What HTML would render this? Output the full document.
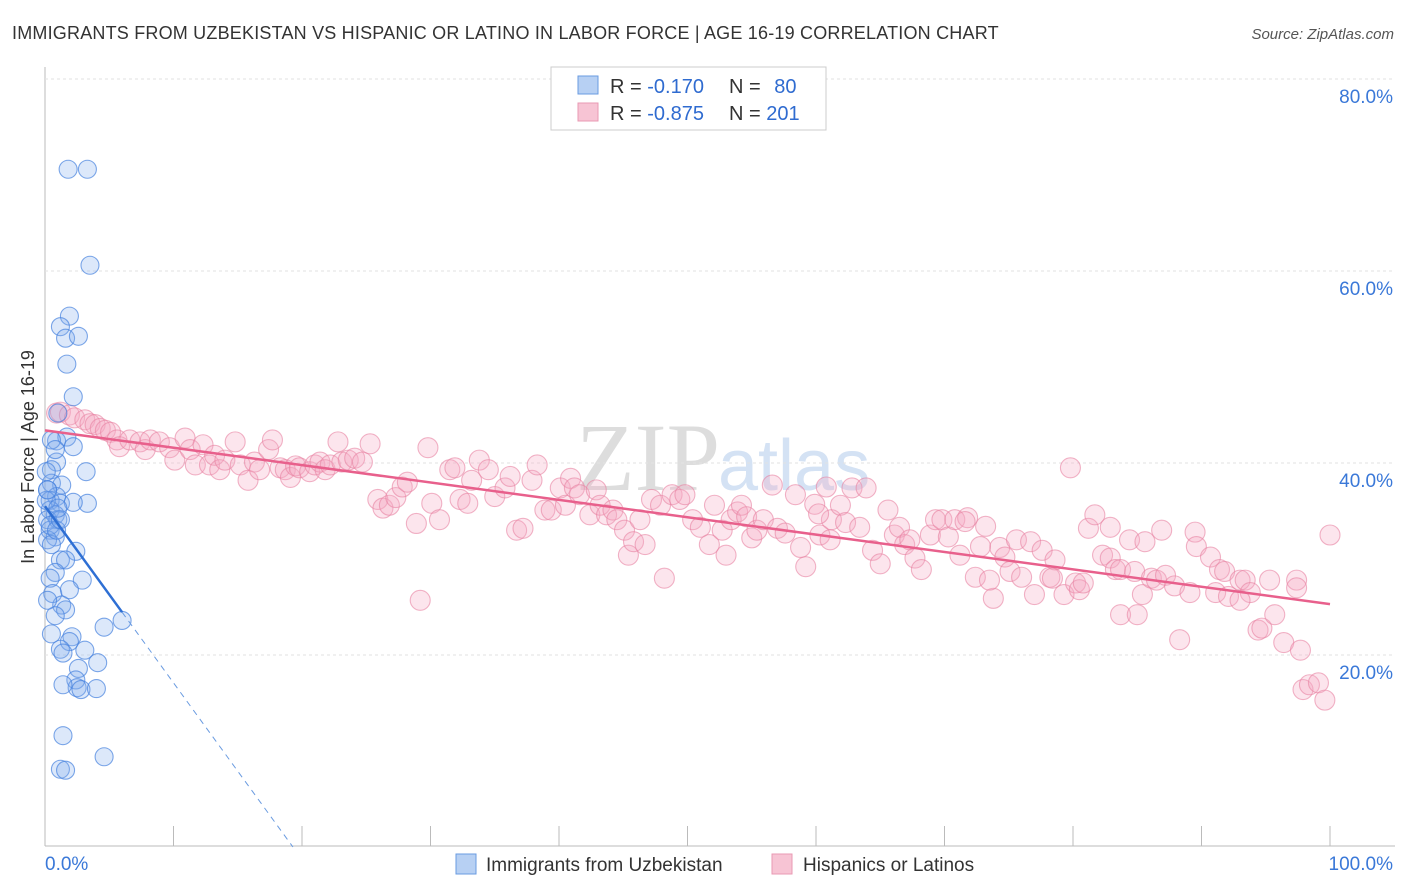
<!DOCTYPE html>
<html><head><meta charset="utf-8">
<style>
body{margin:0;background:#fff;font-family:"Liberation Sans",sans-serif;}
#wrap{position:relative;width:1406px;height:892px;overflow:hidden;}
</style></head>
<body><div id="wrap">
<svg id="svg" width="1406" height="892" xmlns="http://www.w3.org/2000/svg">
<text x="12" y="39" font-size="18" fill="#333" letter-spacing="0.2">IMMIGRANTS FROM UZBEKISTAN VS HISPANIC OR LATINO IN LABOR FORCE | AGE 16-19 CORRELATION CHART</text>
<text x="1394" y="39" font-size="15" fill="#555" font-style="italic" text-anchor="end">Source: ZipAtlas.com</text>
<text x="720" y="490" font-size="96" fill="#ddd" text-anchor="end" font-family="Liberation Serif,serif">ZIP</text>
<text x="718" y="490" font-size="72" fill="#d4e2f4">atlas</text>
<g id="grid"></g><g id="pts"></g><g id="lines"></g>
<text transform="translate(34,457) rotate(-90)" font-size="18" fill="#333" text-anchor="middle">In Labor Force | Age 16-19</text>
<g>
<rect x="551" y="67" width="275" height="63" fill="#fff" stroke="#ccc"/>
<rect x="578" y="76" width="20" height="18" fill="#b7d0f3" stroke="#6a9be0"/>
<rect x="578" y="103" width="20" height="18" fill="#f7c4d4" stroke="#e99ab3"/>
<text x="610" y="93" font-size="20" fill="#333">R = <tspan fill="#2f6bd0">-0.170</tspan></text>
<text x="729" y="93" font-size="20" fill="#333">N = <tspan fill="#2f6bd0" dx="8">80</tspan></text>
<text x="610" y="120" font-size="20" fill="#333">R = <tspan fill="#2f6bd0">-0.875</tspan></text>
<text x="729" y="120" font-size="20" fill="#333">N = <tspan fill="#2f6bd0">201</tspan></text>
</g>
<g><rect x="456" y="854" width="20" height="20" fill="#b7d0f3" stroke="#6a9be0"/><text x="486" y="871" font-size="19" fill="#333">Immigrants from Uzbekistan</text></g>
<g><rect x="772" y="854" width="20" height="20" fill="#f7c4d4" stroke="#e99ab3"/><text x="803" y="871" font-size="19" fill="#333">Hispanics or Latinos</text></g>
</svg></div>
<script>
const yTicks=[20,40,60,80];
const blueX=[1.8,3.3,3.5,1.9,1.2,1.6,2.6,1.7,2.2,1.0,0.9,1.7,2.2,0.5,0.9,0.5,3.2,0.5,1.3,0.2,0.9,0.4,1.2,3.3,2.2,0.4,0.8,0.2,1.0,0.4,0.8,2.4,1.2,1.6,0.8,2.9,0.4,0.6,1.9,1.3,1.6,0.8,0.5,2.1,1.9,1.2,1.4,4.6,6.0,3.1,4.1,2.6,2.4,2.5,2.8,4.0,1.4,1.4,4.6,1.2,1.6,0.2,0.2,0.1,0.1,0.8,0.4,0.5,0.9,0.2,1.2,1.0];
const blueY=[70.6,70.6,60.6,55.3,54.2,53.0,53.2,50.3,46.9,45.2,42.3,42.7,41.7,42.4,40.1,39.3,39.1,37.9,37.7,37.2,36.5,36.1,35.8,35.8,35.9,35.1,34.6,34.1,34.1,33.0,32.3,30.8,29.9,29.9,28.6,27.8,28.0,26.4,26.8,25.2,24.7,24.1,22.2,21.9,21.4,20.6,20.2,22.9,23.6,20.5,19.2,18.6,17.4,16.6,16.4,16.5,16.9,11.6,9.4,8.1,8.0,32.0,25.7,39.1,36.1,41.4,33.5,31.5,33.0,37.2,34.1,35.3];
const pinkX=[0.9,1.2,1.9,2.3,3.1,3.5,3.9,4.3,4.7,5.1,5.6,5.8,6.6,7.4,7.8,8.2,8.9,9.7,10.1,10.9,11.3,11.7,12.3,12.8,13.2,13.6,14.0,14.8,15.2,15.8,16.3,16.7,17.4,17.7,18.3,18.7,19.1,19.5,19.8,20.6,21.0,21.4,21.8,22.2,22.8,23.1,23.6,24.1,24.7,25.3,25.9,26.3,26.8,27.3,27.8,28.2,28.9,29.8,30.1,30.7,31.5,31.9,32.3,32.9,33.2,33.8,34.5,35.0,35.8,36.2,36.7,37.2,37.9,38.3,38.9,39.4,40.1,40.5,40.9,41.2,41.6,42.4,42.9,43.2,43.7,44.2,44.5,45.1,45.4,45.8,46.3,46.7,47.2,47.9,48.2,48.8,49.4,49.8,50.4,51.0,51.7,52.1,52.7,53.0,53.4,53.9,54.2,54.6,55.0,55.4,55.9,56.6,57.0,57.6,58.4,58.8,59.2,59.9,60.3,60.8,61.2,61.9,62.3,62.8,63.4,63.9,64.4,65.0,65.6,66.1,66.5,66.9,67.3,67.7,68.2,68.9,69.3,69.8,70.3,70.8,71.2,71.8,72.4,73.2,73.8,74.3,74.7,75.1,75.6,76.0,76.7,77.0,77.6,78.2,78.6,79.3,79.8,80.2,80.5,81.2,81.7,82.3,82.9,83.3,83.7,84.4,84.8,85.4,85.6,86.1,86.5,86.9,87.2,87.9,88.3,89.1,89.5,89.6,90.7,91.1,91.4,91.8,92.1,93.0,93.4,93.8,94.4,94.7,95.3,95.7,96.4,97.4,97.7,97.9,98.4,99.1,99.6,100.0,97.4,93.0,83.7,85.0,82.9,80.8,78.4,73.5,72.8,71.6,61.1,60.2,29.2];
const pinkY=[45.2,45.3,45.0,44.7,44.5,44.1,44.0,43.6,43.4,43.2,42.4,41.7,42.4,42.2,41.4,42.4,42.2,41.6,40.3,42.6,41.4,39.8,41.9,39.8,40.8,39.3,40.3,42.2,39.8,38.2,40.1,39.3,41.4,42.4,39.5,39.3,38.5,39.7,39.5,39.1,39.8,40.1,39.3,39.8,42.2,40.1,40.3,40.5,40.1,42.0,36.2,35.3,35.6,36.4,37.5,38.0,33.7,41.6,35.8,34.1,39.3,39.5,36.2,35.8,38.2,40.3,39.3,36.5,37.4,38.6,33.0,33.2,38.2,39.8,35.1,35.1,37.4,35.6,38.4,37.4,36.7,34.6,37.2,35.6,34.6,35.1,34.1,33.0,30.4,31.8,34.1,31.5,36.2,35.6,28.0,36.7,36.2,36.7,34.1,33.3,31.5,35.6,33.0,30.4,34.1,34.9,35.6,34.4,32.2,33.0,34.1,37.7,33.2,32.7,36.7,31.2,29.2,35.7,32.5,37.5,34.1,35.6,33.8,37.4,33.3,37.4,30.9,29.5,35.1,32.5,33.3,31.5,32.0,30.1,28.9,32.5,34.1,34.1,32.3,34.1,30.4,34.3,28.1,33.4,25.9,31.2,30.2,28.7,32.0,28.1,31.8,26.3,30.9,28.1,29.9,26.3,39.5,27.5,26.8,33.2,34.6,30.4,30.1,28.9,28.9,32.0,28.7,26.3,31.8,28.0,27.8,33.0,28.3,27.2,21.6,26.5,32.8,31.3,30.2,26.5,28.9,28.7,26.1,27.8,27.8,26.5,22.6,22.8,27.8,24.2,21.3,27.8,20.5,16.4,16.9,17.1,15.3,32.5,27.0,25.7,24.2,24.2,33.3,27.5,28.0,27.8,31.3,33.9,32.0,34.7,25.7];
const blueFit=[35.5,-1.84], blueSolidEnd=6.0;
const pinkFit=[43.4,-0.181];
const xTickVals=[0,10,20,30,40,50,60,70,80,90,100];
const NS="http://www.w3.org/2000/svg";
const X=v=>45+v*12.85, Y=v=>847-v*9.6;
function mk(tag,attrs,parent){const e=document.createElementNS(NS,tag);for(const k in attrs)e.setAttribute(k,attrs[k]);parent.appendChild(e);return e;}
const grid=document.getElementById('grid'),pts=document.getElementById('pts'),lines=document.getElementById('lines');
let ax=mk('line',{x1:45,y1:67,x2:45,y2:846,stroke:'#bbb'},grid);


let bx=mk('line',{x1:45,y1:846,x2:1395,y2:846,stroke:'#bbb'},grid);


yTicks.forEach(t=>{
 const g=mk('line',{x1:45,y1:Y(t),x2:1395,y2:Y(t),stroke:'#e2e2e2','stroke-dasharray':'3,3'},grid);
 
 
 const l=mk('text',{x:1393,y:Y(t)+24,'font-size':19,fill:'#3a78d8','text-anchor':'end'},grid);l.textContent=t.toFixed(1)+'%';
 
 
});
xTickVals.forEach(t=>{
 const k=mk('line',{x1:X(t),y1:826,x2:X(t),y2:846,stroke:'#bbb'},grid);
 
 
});
const xl0=mk('text',{x:45,y:870,'font-size':19,fill:'#3a78d8'},grid);xl0.textContent='0.0%';


const xl1=mk('text',{x:1393,y:870,'font-size':19,fill:'#3a78d8','text-anchor':'end'},grid);xl1.textContent='100.0%';


pinkX.forEach((v,i)=>{
 const c=mk('circle',{cx:X(v),cy:Y(pinkY[i]),r:10,fill:'rgba(246,170,196,0.3)',stroke:'rgba(232,130,162,0.6)','stroke-width':1.1},pts);
 
 
});
blueX.forEach((v,i)=>{
 const c=mk('circle',{cx:X(v),cy:Y(blueY[i]),r:9,fill:'rgba(130,172,238,0.28)',stroke:'rgba(70,130,222,0.7)','stroke-width':1.1},pts);
 
 
});
const bz=-blueFit[0]/blueFit[1];
const bl=mk('line',{x1:X(0),y1:Y(blueFit[0]),x2:X(blueSolidEnd),y2:Y(blueFit[0]+blueFit[1]*blueSolidEnd),stroke:'#2e6fd4','stroke-width':2.5},lines);


const bd=mk('line',{x1:X(blueSolidEnd),y1:Y(blueFit[0]+blueFit[1]*blueSolidEnd),x2:X(bz),y2:Y(0),stroke:'#6a9be0','stroke-width':1,'stroke-dasharray':'6,5'},lines);


const pl=mk('line',{x1:X(0),y1:Y(pinkFit[0]),x2:X(100),y2:Y(pinkFit[0]+pinkFit[1]*100),stroke:'#e8608c','stroke-width':2.5},lines);


</script>
</body></html>
